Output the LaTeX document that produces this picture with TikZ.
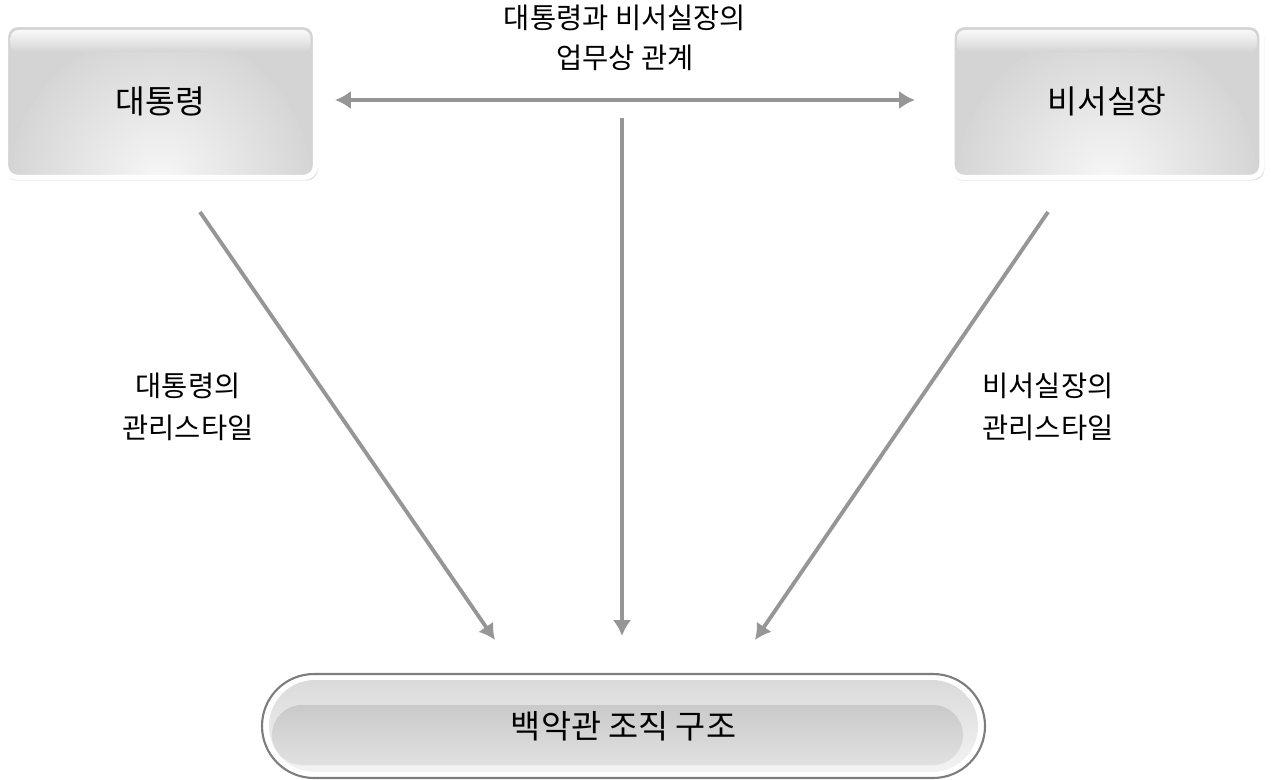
\documentclass[tikz,border=0pt]{standalone}
\usepackage{fontspec}
\setmainfont{Noto Sans CJK KR}
\usetikzlibrary{arrows.meta,positioning,shadows}

\definecolor{boxgray}{RGB}{212,212,212}
\definecolor{linegray}{RGB}{150,150,150}
\definecolor{rimgray}{RGB}{125,125,125}

\tikzset{
  rolebox/.style={draw=white, line width=1.5pt, fill=boxgray, rounded corners=0.12cm,
    minimum width=3.1cm, minimum height=1.53cm, font=\fontsize{9.2}{11}\selectfont,
    drop shadow={opacity=0.22, shadow xshift=0.3pt, shadow yshift=-0.7pt, shadow scale=1.01},
    path picture={
      \shade[inner color=white!80!boxgray, outer color=boxgray]
        ([yshift=-0.05cm]path picture bounding box.south) circle (1.5cm);
      \shade[top color=white!85!boxgray, bottom color=boxgray, rounded corners=0.08cm]
        ([xshift=0.05cm,yshift=-0.055cm]path picture bounding box.north west) rectangle
        ([xshift=-0.05cm,yshift=-0.28cm]path picture bounding box.north east);
    }},
  basebox/.style={draw=rimgray, line width=0.6pt, fill=white, rounded corners=0.52cm,
    minimum width=7.23cm, minimum height=1.04cm, font=\fontsize{9.3}{11}\selectfont,
    path picture={
      \shade[top color=gray!30, bottom color=gray!8, rounded corners=0.46cm]
        ([xshift=0.07cm,yshift=-0.06cm]path picture bounding box.north west) rectangle
        ([xshift=-0.07cm,yshift=0.06cm]path picture bounding box.south east);
      \shade[top color=boxgray!95!black, bottom color=boxgray!70!white, rounded corners=0.3cm]
        ([xshift=0.1cm,yshift=-0.31cm]path picture bounding box.north west) rectangle
        ([xshift=-0.22cm,yshift=0.13cm]path picture bounding box.south east);
    }},
  note/.style={align=center, font=\fontsize{8.1}{12}\selectfont},
  link/.style={draw=linegray, line width=1.1pt, -{Latex[length=4.5pt,width=5.2pt]}}
}

\begin{document}
\begin{tikzpicture}
  \useasboundingbox (0,0) rectangle (12.71,-7.80);

  % boxes
  \node[rolebox] (pres) at (1.605,-1.01) {대통령};
  \node[rolebox] (sec) at (11.07,-1.01) {비서실장};
  \node[basebox] (base) at (6.235,-7.26) {백악관 조직 구조};

  % labels
  \node[note, font=\fontsize{8.1}{11.4}\selectfont] (rel) at (6.25,-0.38) {대통령과 비서실장의\\업무상 관계};
  \node[note] (presstyle) at (1.88,-4.07) {대통령의\\관리스타일};
  \node[note] (secstyle) at (10.48,-4.07) {비서실장의\\관리스타일};

  % arrow ends
  \coordinate (hL) at (3.35,-1.00);
  \coordinate (hR) at (9.15,-1.00);
  \coordinate (vT) at (6.22,-1.18);
  \coordinate (vB) at (6.22,-6.36);
  \coordinate (lT) at (2.00,-2.12);
  \coordinate (lB) at (4.95,-6.40);
  \coordinate (rT) at (10.48,-2.12);
  \coordinate (rB) at (7.55,-6.40);

  \draw[link, {Latex[length=4.5pt,width=5.2pt]}-{Latex[length=4.5pt,width=5.2pt]}] (hL) -- (hR);
  \draw[link] (vT) -- (vB);
  \draw[link] (lT) -- (lB);
  \draw[link] (rT) -- (rB);
\end{tikzpicture}
\end{document}
